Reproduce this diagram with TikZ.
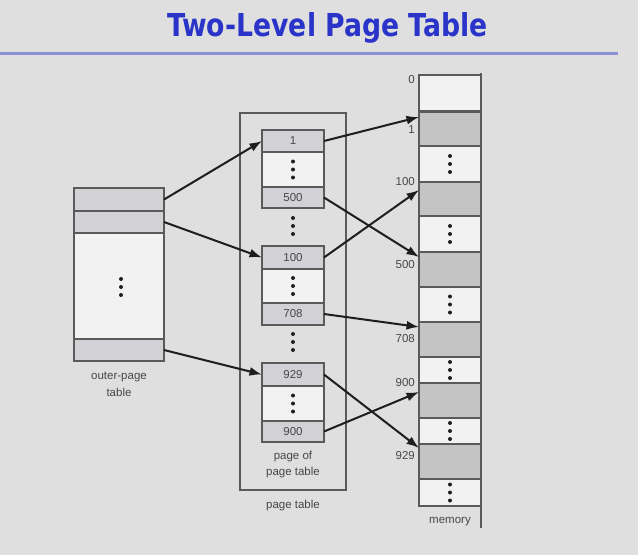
\documentclass[tikz,border=0pt]{standalone}
\usepackage{fontspec}
\setmainfont{Liberation Sans}
\newfontfamily\titlefont{DejaVu Sans}
\usetikzlibrary{arrows.meta}
\definecolor{bg}{HTML}{DFDFDF}
\definecolor{lineg}{HTML}{5A5A5A}
\definecolor{pgray}{HTML}{D2D2D6}
\definecolor{mgray}{HTML}{C4C4C4}
\definecolor{white1}{HTML}{F2F2F2}
\definecolor{txt}{HTML}{474747}
\definecolor{arrc}{HTML}{1E1E1E}
\definecolor{titleblue}{HTML}{2A34C8}
\definecolor{rulec}{HTML}{8C90D6}
\begin{document}
\begin{tikzpicture}[x=1pt,y=-1pt,
  cell/.style={draw=lineg, line width=1.5pt, minimum width=62pt, inner sep=0pt, outer sep=0pt,
    font=\fontsize{11.5}{13}\selectfont, text=txt},
  pg/.style={cell, fill=pgray},
  mg/.style={cell, fill=mgray},
  wc/.style={cell, fill=white1},
  og/.style={cell, fill=pgray, minimum width=90pt},
  ow/.style={cell, fill=white1, minimum width=90pt},
  lab/.style={font=\fontsize{11.5}{13}\selectfont, text=txt, inner sep=0pt},
  num/.style={lab, anchor=east},
  arr/.style={-{Latex[length=12.5pt,width=9pt]}, line width=2pt, draw=arrc},
  vd/.pic={\foreach \k in {-8,0,8} \fill[arrc] (0,\k) circle[radius=2pt];}
]
\useasboundingbox (0,0) rectangle (638,555);
\fill[bg] (0,0) rectangle (638,555);

% title
\node[anchor=base, text=titleblue, inner sep=0pt] (title) at (327.5,36)
  {\resizebox{321pt}{24pt}{\titlefont\fontsize{32}{36}\selectfont\bfseries Two-Level Page Table}};
\draw[rulec, line width=3pt] (0,53) -- (618,53);

% outer page table
\node[og, minimum height=23pt] (o1) at (119,199.5) {};
\node[og, minimum height=22pt] (o2) at (119,222) {};
\node[ow, minimum height=106pt] (od) at (119,286) {};
\node[og, minimum height=22pt] (o3) at (119,350) {};
\pic at (121,287) {vd};
\node[lab] (olab1) at (119,377) {outer-page};
\node[lab] (olab2) at (119,392) {table};

% page table frame
\node[draw=lineg, line width=1.5pt, minimum width=106pt, minimum height=377pt, inner sep=0pt] (pt) at (293,301.5) {};
\node[lab] (ptlab) at (293,506) {page table};

% group 1
\node[pg, minimum height=22pt] (p1) at (293,141) {1};
\node[wc, minimum height=35pt] (p1d) at (293,169.5) {};
\node[pg, minimum height=21pt] (p500) at (293,197.5) {500};
\pic at (p1d.center) {vd};
\pic at (293,226) {vd};
% group 2
\node[pg, minimum height=23pt] (p100) at (293,257.5) {100};
\node[wc, minimum height=34pt] (p2d) at (293,286) {};
\node[pg, minimum height=22pt] (p708) at (293,314) {708};
\pic at (p2d.center) {vd};
\pic at (293,342) {vd};
% group 3
\node[pg, minimum height=23pt] (p929) at (293,374.5) {929};
\node[wc, minimum height=35pt] (p3d) at (293,403.5) {};
\node[pg, minimum height=21pt] (p900) at (293,431.5) {900};
\pic at (p3d.center) {vd};
\node[lab] (pplab1) at (293,457) {page of};
\node[lab] (pplab2) at (293,473) {page table};

% memory
\draw[lineg, line width=1.5pt] (481,73) -- (481,528);
\node[wc, minimum height=36pt] (m0) at (450,93) {};
\node[mg, minimum height=34pt] (m1) at (450,129) {};
\node[wc, minimum height=36pt] (md1) at (450,164) {};
\node[mg, minimum height=34pt] (m100) at (450,199) {};
\node[wc, minimum height=36pt] (md2) at (450,234) {};
\node[mg, minimum height=35pt] (m500) at (450,269.5) {};
\node[wc, minimum height=35pt] (md3) at (450,304.5) {};
\node[mg, minimum height=35pt] (m708) at (450,339.5) {};
\node[wc, minimum height=26pt] (md4) at (450,370) {};
\node[mg, minimum height=35pt] (m900) at (450,400.5) {};
\node[wc, minimum height=26pt] (md5) at (450,431) {};
\node[mg, minimum height=35pt] (m929) at (450,461.5) {};
\node[wc, minimum height=27pt] (md6) at (450,492.5) {};
\foreach \d in {md1,md2,md3,md4,md5,md6} \pic at (\d.center) {vd};
\node[lab] (mlab) at (450,522) {memory};

\node[num] (n0) at (415,80) {0};
\node[num] (n1) at (415,130) {1};
\node[num] (n100) at (415,182) {100};
\node[num] (n500) at (415,265) {500};
\node[num] (n708) at (415,339) {708};
\node[num] (n900) at (415,383) {900};
\node[num] (n929) at (415,456) {929};

% connectors
\draw[arr] (o1.east) -- (p1.west);
\draw[arr] (o2.east) -- (p100.west);
\draw[arr] (o3.east) -- (p929.west);
\draw[arr] (p1.east) -- ([yshift=-5pt]m1.north west);
\draw[arr] (p500.east) -- ([yshift=-5pt]m500.north west);
\draw[arr] (p100.east) -- ([yshift=-8pt]m100.north west);
\draw[arr] (p708.east) -- ([yshift=-5pt]m708.north west);
\draw[arr] (p929.east) -- ([yshift=-4pt]m929.north west);
\draw[arr] (p900.east) -- ([yshift=-9pt]m900.north west);
\end{tikzpicture}
\end{document}
